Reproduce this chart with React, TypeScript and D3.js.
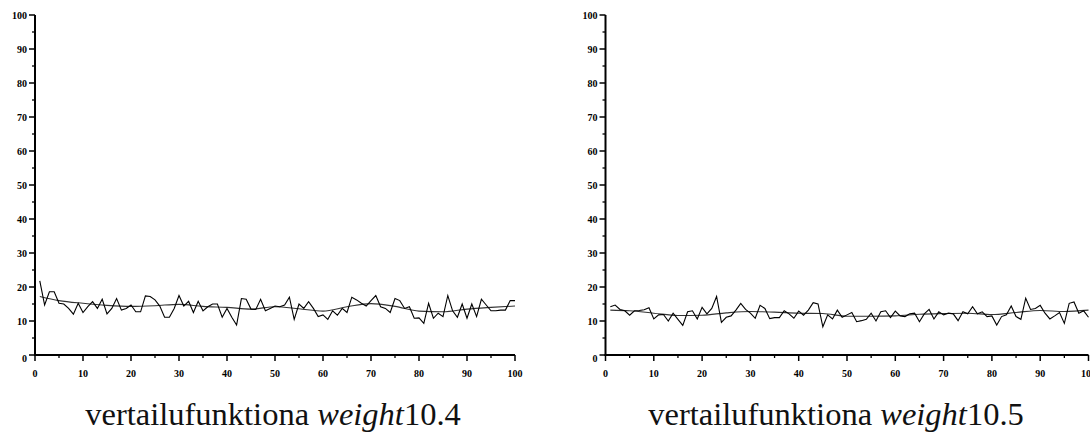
import React, { useRef, useEffect } from "react";
import * as d3 from "d3";

// raw values, one per iteration 1..100
const leftRaw = [
  21.8, 14.7, 18.6, 18.6, 15.2, 15.0, 13.7, 12.0, 15.2, 12.5,
  14.2, 15.7, 13.7, 16.4, 12.1, 13.7, 16.6, 13.2, 13.7, 14.7,
  12.7, 12.7, 17.4, 17.2, 16.2, 14.4, 11.1, 11.1, 13.7, 17.5,
  14.4, 15.8, 12.5, 15.8, 13.0, 14.2, 15.0, 15.0, 11.1, 13.7,
  11.1, 8.8, 16.6, 16.4, 13.5, 13.4, 16.4, 13.0, 13.7, 14.4,
  14.2, 14.7, 17.0, 10.5, 15.0, 13.7, 15.7, 13.7, 11.3, 11.8,
  10.5, 13.0, 11.7, 13.7, 12.5, 17.0, 16.2, 15.2, 14.4, 16.0,
  17.5, 14.2, 13.7, 12.5, 16.6, 16.0, 13.7, 14.2, 10.8, 10.9,
  9.3, 15.2, 10.8, 12.3, 11.3, 17.5, 13.0, 11.1, 15.0, 10.8,
  15.0, 11.3, 16.4, 14.7, 13.0, 13.0, 13.2, 13.2, 16.0, 16.0,
];

const rightRaw = [
  14.2, 14.7, 13.4, 13.0, 11.7, 13.0, 13.1, 13.3, 13.9, 10.6,
  11.8, 11.9, 10.0, 12.3, 10.5, 8.7, 12.7, 13.0, 10.6, 14.0,
  12.1, 13.7, 17.2, 9.6, 11.1, 11.5, 13.2, 15.2, 13.4, 12.3,
  10.8, 14.6, 13.7, 10.7, 11.0, 11.0, 13.0, 12.1, 10.8, 12.9,
  11.7, 13.2, 15.4, 15.0, 8.3, 11.8, 10.6, 13.2, 11.1, 11.8,
  12.5, 9.8, 10.1, 10.5, 12.3, 10.0, 12.7, 13.0, 11.0, 12.9,
  11.5, 11.3, 12.1, 12.3, 9.8, 12.1, 13.4, 10.6, 12.7, 11.8,
  12.3, 12.1, 10.1, 12.7, 12.1, 14.2, 12.1, 12.7, 11.3, 11.5,
  8.8, 11.3, 11.8, 14.4, 11.3, 10.5, 16.7, 13.4, 13.7, 14.6,
  12.3, 10.6, 11.5, 12.5, 9.3, 15.2, 15.6, 12.3, 13.0, 11.1,
];

// smoothed curve sampled at these iterations
const smoothX = [1, 5, 10, 15, 20, 25, 30, 35, 40, 45, 50, 55, 60, 65, 70, 75, 80, 85, 90, 95, 100];
const leftSmooth = [17.2, 16.0, 15.2, 14.6, 14.3, 14.5, 14.9, 14.3, 14.0, 13.5, 14.2, 13.6, 12.9, 14.2, 15.1, 14.3, 12.9, 12.7, 13.5, 14.0, 14.4];
const rightSmooth = [13.2, 13.0, 12.3, 11.6, 11.7, 12.4, 12.8, 12.6, 12.3, 12.2, 11.4, 11.4, 11.5, 12.0, 12.2, 12.3, 11.9, 12.5, 13.1, 12.8, 13.2];

const yTicks = [0, 10, 20, 30, 40, 50, 60, 70, 80, 90, 100];
const xTicks = [0, 10, 20, 30, 40, 50, 60, 70, 80, 90, 100];
const captions = ["10.4", "10.5"];

const App = () => {
  const ref = useRef(null);

  useEffect(() => {
    const svg = d3.select(ref.current);
    svg.selectAll("*").remove();

    const panels = [
      { x0: 35, x1: 515, raw: leftRaw, smooth: leftSmooth, cap: captions[0], capX: 273 },
      { x0: 605.5, x1: 1088.5, raw: rightRaw, smooth: rightSmooth, cap: captions[1], capX: 836 },
    ];

    const y = d3.scaleLinear().domain([0, 100]).range([355, 15]);

    panels.forEach((p) => {
      const x = d3.scaleLinear().domain([0, 100]).range([p.x0, p.x1]);
      const g = svg.append("g");

      // minor ticks every 5
      const minor = d3.range(5, 100, 10);
      g.selectAll(".ym").data(minor).enter().append("line")
        .attr("x1", p.x0 - 3).attr("x2", p.x0)
        .attr("y1", (d) => y(d)).attr("y2", (d) => y(d))
        .attr("stroke", "#000").attr("stroke-width", 1.3);
      g.selectAll(".xm").data(minor).enter().append("line")
        .attr("x1", (d) => x(d)).attr("x2", (d) => x(d))
        .attr("y1", y(0)).attr("y2", y(0) + 3)
        .attr("stroke", "#000").attr("stroke-width", 1.3);

      // major ticks
      g.selectAll(".yM").data(yTicks).enter().append("line")
        .attr("x1", p.x0 - 6).attr("x2", p.x0)
        .attr("y1", (d) => y(d)).attr("y2", (d) => y(d))
        .attr("stroke", "#000").attr("stroke-width", 1.5);
      g.selectAll(".xM").data(xTicks).enter().append("line")
        .attr("x1", (d) => x(d)).attr("x2", (d) => x(d))
        .attr("y1", y(0)).attr("y2", y(0) + 6)
        .attr("stroke", "#000").attr("stroke-width", 1.5);

      // axes
      g.append("line").attr("x1", p.x0).attr("x2", p.x0)
        .attr("y1", y(100)).attr("y2", y(0) + 1)
        .attr("stroke", "#000").attr("stroke-width", 2);
      g.append("line").attr("x1", p.x0 - 1).attr("x2", p.x1)
        .attr("y1", y(0)).attr("y2", y(0))
        .attr("stroke", "#000").attr("stroke-width", 2);

      g.selectAll(".yl").data(yTicks).enter().append("text")
        .attr("x", p.x0 - 8)
        .attr("y", (d) => y(d) + (d === 0 ? 6.5 : 3.5))
        .attr("text-anchor", "end")
        .style("font-family", "'Liberation Serif', serif")
        .style("font-weight", "bold")
        .style("font-size", "10px")
        .text((d) => d);
      g.selectAll(".xl").data(xTicks).enter().append("text")
        .attr("x", (d) => x(d))
        .attr("y", 376.5)
        .attr("text-anchor", "middle")
        .style("font-family", "'Liberation Serif', serif")
        .style("font-weight", "bold")
        .style("font-size", "10px")
        .text((d) => d);

      const line = d3.line().x((d) => x(d[0])).y((d) => y(d[1]));
      const smoothLine = d3.line().x((d) => x(d[0])).y((d) => y(d[1])).curve(d3.curveMonotoneX);

      g.append("path")
        .attr("d", smoothLine(smoothX.map((v, i) => [v, p.smooth[i]])))
        .attr("fill", "none").attr("stroke", "#333").attr("stroke-width", 1.1);
      g.append("path")
        .attr("d", line(p.raw.map((v, i) => [i + 1, v])))
        .attr("fill", "none").attr("stroke", "#000").attr("stroke-width", 1.1)
        .attr("stroke-linejoin", "miter");

      const t = svg.append("text")
        .attr("x", p.capX).attr("y", 425)
        .attr("text-anchor", "middle")
        .style("font-family", "'Liberation Serif', serif")
        .style("font-size", "32.5px")
        .attr("fill", "#111");
      t.append("tspan").text("vertailufunktiona ");
      t.append("tspan").style("font-style", "italic").text("weight");
      t.append("tspan").text(p.cap);
    });
  }, []);

  return (
    <svg
      ref={ref}
      width={1090}
      height={433}
      style={{ position: "absolute", left: 0, top: 0, background: "#fff" }}
    ></svg>
  );
};

export default App;
